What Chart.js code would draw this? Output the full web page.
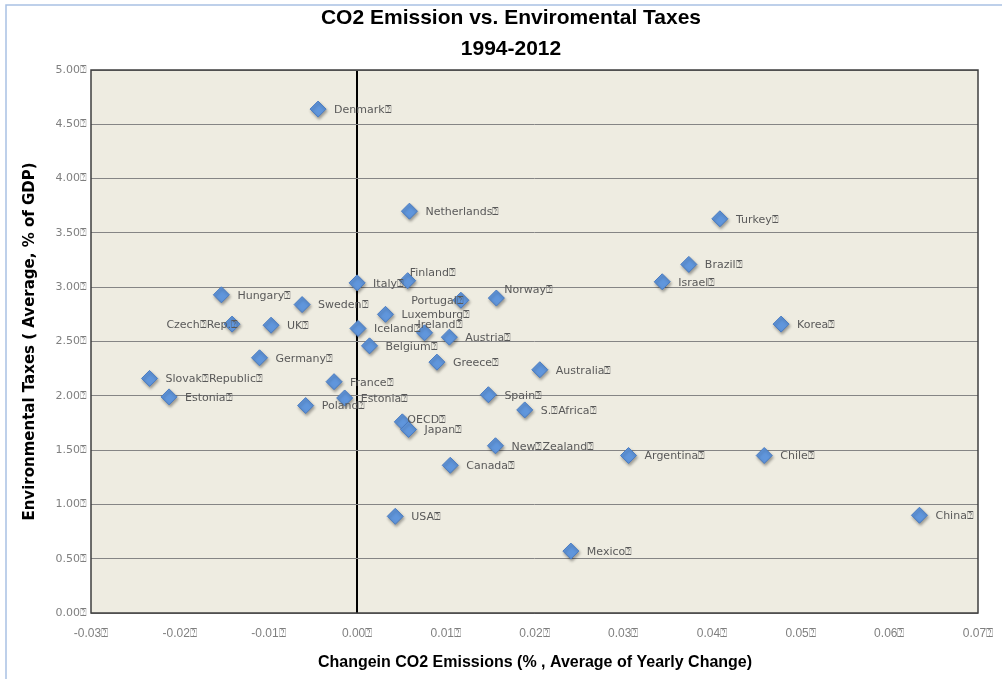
<!DOCTYPE html>
<html><head><meta charset="utf-8">
<script src="https://cdn.jsdelivr.net/npm/chart.js@4.4.1/dist/chart.umd.min.js"></script>
<style>html,body{margin:0;padding:0;background:#fff}#wrap{width:1002px;height:679px;position:relative}</style>
</head><body><div id="wrap"><canvas id="c" width="1002" height="679"></canvas></div>
<script>
const MISSING = '\u2370';
const titleLines = ['CO2 Emission vs. Enviromental Taxes', '1994-2012'];
const xTitle = 'Changein CO2 Emissions (% , Average of Yearly Change)';
const yTitle = 'Environmental Taxes ( Average, % of GDP)';

const countries = ['Denmark','Netherlands','Turkey','Brazil','Israel','Korea','Finland','Italy','Hungary','Sweden',
  'Czech Rep.','UK','Luxemburg','Iceland','Belgium','Portugal','Norway','Ireland','Austria','Greece',
  'Australia','Spain','S. Africa','OECD','Japan','New Zealand','Canada','Argentina','Chile','China',
  'Mexico','USA','Germany','Slovak Republic','Estonia','France','Estonia','Poland'];
const co2Change = [-0.0044,0.0059,0.0409,0.0374,0.0344,0.0478,0.0057,0.0000,-0.0153,-0.0062,
  -0.0141,-0.0097,0.0032,0.0001,0.0014,0.0117,0.0157,0.0076,0.0104,0.0090,
  0.0206,0.0148,0.0189,0.0051,0.0058,0.0156,0.0105,0.0306,0.0459,0.0634,
  0.0241,0.0043,-0.0110,-0.0234,-0.0212,-0.0026,-0.0014,-0.0058];
const envTax = [4.64,3.70,3.63,3.21,3.05,2.66,3.06,3.04,2.93,2.84,
  2.66,2.65,2.75,2.62,2.46,2.88,2.90,2.58,2.54,2.31,
  2.24,2.01,1.87,1.76,1.69,1.54,1.36,1.45,1.45,0.90,
  0.57,0.89,2.35,2.16,1.99,2.13,1.98,1.91];
const xTickLabels = ['-0.03','-0.02','-0.01','0.00','0.01','0.02','0.03','0.04','0.05','0.06','0.07'];
const yTickLabels = ['0.00','0.50','1.00','1.50','2.00','2.50','3.00','3.50','4.00','4.50','5.00'];

// label placement tweaks (style only)
const labelNudge = {
  'Finland': {dx: 2, dy: -8},
  'Portugal': {dx: 3, dy: 1, align: 'right'},
  'Ireland': {dx: -7, dy: -8},
  'Norway': {dx: 8, dy: -8},
  'OECD': {dx: 5, dy: -2},
  'Czech Rep.': {dx: 6, dy: 1, align: 'right'}
};

const points = co2Change.map((x, i) => ({x: x, y: envTax[i]}));

const decorPlugin = {
  id: 'decor',
  beforeDraw(chart) {
    const ctx = chart.ctx, a = chart.chartArea;
    ctx.save();
    ctx.fillStyle = '#ffffff';
    ctx.fillRect(0, 0, chart.width, chart.height);
    ctx.strokeStyle = '#a9c1e3';
    ctx.lineWidth = 1.5;
    ctx.beginPath();
    ctx.moveTo(6, chart.height); ctx.lineTo(6, 5); ctx.lineTo(chart.width, 5);
    ctx.stroke();
    ctx.fillStyle = '#eeece1';
    ctx.fillRect(a.left, a.top, a.right - a.left, a.bottom - a.top);
    ctx.restore();
  },
  beforeDatasetsDraw(chart) {
    const ctx = chart.ctx, a = chart.chartArea;
    ctx.save();
    ctx.strokeStyle = '#3f3f3f';
    ctx.lineWidth = 1.5;
    ctx.strokeRect(a.left, a.top, a.right - a.left, a.bottom - a.top);
    ctx.restore();
    ctx.save();
    ctx.shadowColor = 'rgba(0,0,0,0.35)';
    ctx.shadowBlur = 3;
    ctx.shadowOffsetX = 1;
    ctx.shadowOffsetY = 2;
  },
  afterDatasetsDraw(chart) {
    const ctx = chart.ctx, a = chart.chartArea;
    ctx.restore();
    const meta = chart.getDatasetMeta(0);
    ctx.save();
    ctx.font = '11px "DejaVu Sans"';
    ctx.fillStyle = '#595959';
    ctx.textBaseline = 'middle';
    meta.data.forEach((el, i) => {
      const name = countries[i];
      const n = labelNudge[name] || {dx: 16, dy: 1};
      ctx.textAlign = n.align || 'left';
      const txt = name.replace(/ /g, MISSING) + MISSING;
      ctx.fillText(txt, el.x + n.dx, el.y + n.dy);
    });
    ctx.restore();
    // titles
    ctx.save();
    ctx.fillStyle = '#000';
    ctx.textAlign = 'center';
    ctx.textBaseline = 'middle';
    ctx.font = 'bold 21px "Liberation Sans"';
    ctx.fillText(titleLines[0], 511, 18);
    ctx.fillText(titleLines[1], 511, 49);
    ctx.font = 'bold 16px "Liberation Sans"';
    ctx.fillText(xTitle, 535, 663);
    ctx.translate(30, (a.top + a.bottom) / 2);
    ctx.rotate(-Math.PI / 2);
    ctx.font = 'bold 15px "DejaVu Sans"';
    ctx.fillText(yTitle, 0, 0);
    ctx.restore();
  }
};

new Chart(document.getElementById('c'), {
  type: 'scatter',
  data: {
    datasets: [{
      data: points,
      pointStyle: 'rectRot',
      pointRadius: 8,
      pointHoverRadius: 8,
      backgroundColor: '#6096dc',
      borderColor: '#4a7cc2',
      borderWidth: 1
    }]
  },
  options: {
    responsive: false,
    animation: false,
    events: [],
    layout: {padding: {top: 70, right: 24, left: 0, bottom: 0}},
    plugins: {legend: {display: false}, tooltip: {enabled: false}, title: {display: false}},
    scales: {
      x: {
        type: 'linear', min: -0.03, max: 0.07,
        afterFit(s) { s.height = 66; s.paddingLeft = 0; s.paddingRight = 0; },
        border: {display: false},
        grid: {
          drawTicks: false,
          color: c => (c.tick && Math.abs(c.tick.value) < 1e-9) ? '#000000' : 'rgba(0,0,0,0)',
          lineWidth: 2
        },
        ticks: {
          stepSize: 0.01, padding: 13, color: '#7f7f7f', maxRotation: 0,
          font: {family: '"Liberation Sans Narrow", "Liberation Sans"', size: 12},
          callback: (v, i) => (xTickLabels[i] !== undefined ? xTickLabels[i] : v.toFixed(2)) + MISSING
        }
      },
      y: {
        type: 'linear', min: 0, max: 5,
        afterFit(s) { s.width = 91; s.paddingTop = 0; s.paddingBottom = 0; },
        border: {display: false},
        grid: {drawTicks: false, color: '#858585', lineWidth: 1},
        ticks: {
          stepSize: 0.5, padding: 4, color: '#7f7f7f',
          font: {family: '"DejaVu Sans"', size: 11},
          callback: (v, i) => (yTickLabels[i] !== undefined ? yTickLabels[i] : v.toFixed(2)) + MISSING
        }
      }
    }
  },
  plugins: [decorPlugin]
});
</script></body></html>
